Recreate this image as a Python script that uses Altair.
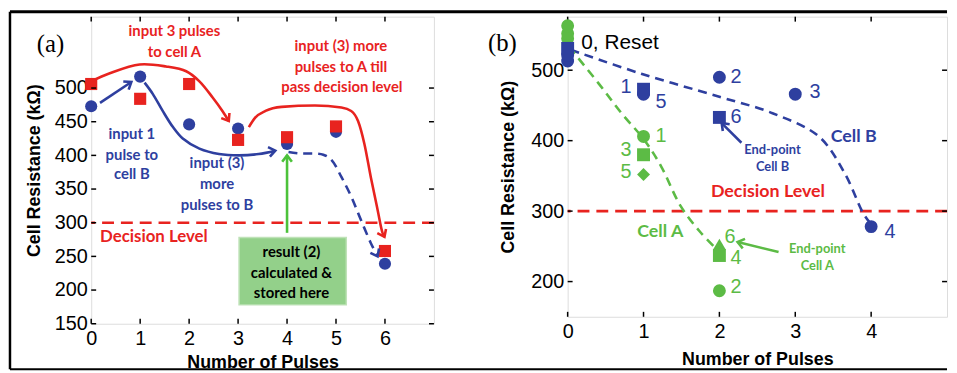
import math
import altair as alt
import pandas as pd

RED = "#e8231f"
BLUE = "#2e3f9f"
GREEN = "#5cbb45"
ARROW = "M -1 -0.75 L 0 0 L -1 0.75"
SANS = "Liberation Sans"
NOTE = "Lato"

# ---------------- panel (a) data ----------------
a_pulses = [0, 1, 2, 3, 4, 5, 6]
a_yticks = [150, 200, 250, 300, 350, 400, 450, 500]
a_cell_a = [506, 484, 506, 423, 427, 443, 258]
a_cell_b = [473, 517, 446, 440, 417, 435, 239]
decision = 300

a_red1_x = [0, 0.38, 0.99, 1.53, 1.94, 2.21, 2.48, 2.68, 2.81]
a_red1_y = [510, 522, 535, 532, 525, 510, 486, 466, 451]
a_red2_x = [3.22, 3.35, 3.56, 3.89, 4.57, 5.11, 5.31, 5.45, 5.58, 5.71, 5.85, 5.95, 5.99]
a_red2_y = [442, 456, 466, 472, 474, 471, 466, 451, 417, 368, 319, 285, 279]
a_blue1_x = [0.18, 0.82]
a_blue1_y = [478, 509]
a_blue2_x = [1.09, 1.26, 1.46, 1.67, 1.87, 2.21, 2.61, 3.02, 3.42, 3.76]
a_blue2_y = [508, 491, 466, 442, 425, 410, 402, 400, 402, 407]
a_blue3_x = [4.03, 4.23, 4.74, 4.91, 5.11, 5.31, 5.51, 5.71, 5.85]
a_blue3_y = [405, 403, 401, 393, 368, 339, 304, 270, 250]
a_green_x = [4.0, 4.0]
a_green_y = [285, 400]

a_box = {"x": 3.02, "x2": 5.21, "y": 178, "y2": 278}

a_red_notes = ["input 3 pulses", "to cell A", "input (3) more", "pulses to A till",
               "pass decision level", "Decision Level"]
a_red_notes_x = [1.70, 1.70, 5.10, 5.10, 5.12, 1.28]
a_red_notes_y = [584, 553, 562, 531, 501, 278]
a_blue_notes = ["input 1", "pulse to", "cell B", "input (3)", "more", "pulses to B"]
a_blue_notes_x = [0.83, 0.83, 0.83, 2.57, 2.57, 2.57]
a_blue_notes_y = [432, 401, 372, 388, 357, 326]
a_box_notes = ["result (2)", "calculated &", "stored here"]
a_box_notes_x = [4.09, 4.09, 4.09]
a_box_notes_y = [257, 226, 196]

# ---------------- panel (b) data ----------------
b_pulses = [0, 1, 2, 3, 4]
b_yticks = [200, 300, 400, 500]
b_cellB_x = [0, 0, 0, 1, 1, 2, 2, 3, 4]
b_cellB_y = [513, 521, 531, 473, 466, 490, 433, 466, 278]
b_cellB_shape = ["circle", "circle", "square", "square", "circle", "circle", "square", "circle", "circle"]
b_cellA_x = [0, 0, 0, 1, 1, 1, 2, 2, 2]
b_cellA_y = [545, 552, 563, 406, 380, 352, 187, 237, 253]
b_cellA_shape = ["circle", "circle", "circle", "circle", "square", "diamond", "circle", "square", "triangle-up"]

b_blue_curve_x = [0.04, 0.97, 2.01, 2.70, 3.31, 3.65, 3.89, 3.98]
b_blue_curve_y = [529, 495, 462, 439, 406, 354, 298, 284]
b_green_curve_x = [0.02, 0.41, 0.71, 1.01, 1.23, 1.49, 1.75, 2.01]
b_green_curve_y = [533, 481, 439, 401, 364, 307, 270, 241]
b_blue_arrow_x = [2.29, 2.03]
b_blue_arrow_y = [397, 425]
b_green_arrow_x = [2.78, 2.24]
b_green_arrow_y = [242, 256]

b_blue_labels = ["1", "5", "2", "3", "6", "4"]
b_blue_labels_x = [0.77, 1.23, 2.22, 3.26, 2.22, 4.25]
b_blue_labels_y = [476, 455, 490, 469, 434, 270]
b_green_labels = ["1", "3", "5", "6", "4", "2"]
b_green_labels_x = [1.23, 0.77, 0.77, 2.14, 2.22, 2.22]
b_green_labels_y = [406, 386, 356, 263, 234, 192]

# ---------------- geometry ----------------
WA, HA = 346, 310
WB, HB = 383, 303
A_XD, A_YD = [0, 7], [150, 606]
B_XD, B_YD = [0, 5], [150, 576]


def axis_x(domain, values, title, tpad):
    return alt.X("x:Q", scale=alt.Scale(domain=domain, nice=False, zero=False),
                 axis=alt.Axis(values=values, title=title, grid=False, ticks=False, tickSize=0,
                               domain=False, format="d", labelFlush=False, labelOverlap=False,
                               labelFont=SANS, labelFontSize=20, labelColor="black", labelPadding=5,
                               titleFont=SANS, titleFontSize=18, titleFontWeight="bold",
                               titleColor="black", titlePadding=tpad))


def axis_y(domain, values, title, tpad):
    return alt.Y("y:Q", scale=alt.Scale(domain=domain, nice=False, zero=False),
                 axis=alt.Axis(values=values, title=title, grid=False, ticks=False, tickSize=0,
                               domain=False, format="d", labelFlush=False, labelOverlap=False,
                               labelFont=SANS, labelFontSize=20, labelColor="black", labelPadding=4,
                               titleFont=SANS, titleFontSize=18, titleFontWeight="bold",
                               titleColor="black", titlePadding=tpad))


def xy_df(xs, ys):
    return pd.DataFrame({"x": xs, "y": ys, "i": list(range(len(xs)))})


def head_df(xs, ys, color, dom_x, dom_y, w, h):
    sx = w / (dom_x[1] - dom_x[0])
    sy = h / (dom_y[1] - dom_y[0])
    dx = (xs[-1] - xs[-2]) * sx
    dy = -(ys[-1] - ys[-2]) * sy
    ang = math.degrees(math.atan2(dy, dx)) % 360
    return {"x": xs[-1], "y": ys[-1], "angle": ang, "c": color}


def panel_layers(X, Y, curves, heads, texts, xticks, yticks, w, h):
    layers = []
    yt = pd.DataFrame({"y": yticks})
    xt = pd.DataFrame({"x": xticks})
    layers.append(alt.Chart(yt).mark_rule(color="black", strokeWidth=1.5)
                  .encode(y=Y, x=alt.value(0), x2=alt.value(5)))
    layers.append(alt.Chart(yt).mark_rule(color="black", strokeWidth=1.5)
                  .encode(y=Y, x=alt.value(w - 5), x2=alt.value(w)))
    layers.append(alt.Chart(xt).mark_rule(color="black", strokeWidth=1.5)
                  .encode(x=X, y=alt.value(h), y2=alt.value(h - 5)))
    layers.append(alt.Chart(xt).mark_rule(color="black", strokeWidth=1.5)
                  .encode(x=X, y=alt.value(0), y2=alt.value(5)))
    for xs, ys, color, dash, interp in curves:
        kw = dict(color=color, strokeWidth=2.6, interpolate=interp, strokeCap="butt")
        if dash:
            kw["strokeDash"] = dash
        layers.append(alt.Chart(xy_df(xs, ys)).mark_line(**kw)
                      .encode(x=X, y=Y, order="i:Q"))
    hd = pd.DataFrame(heads)
    layers.append(alt.Chart(hd).mark_point(shape=ARROW, filled=False, strokeWidth=2.6, size=170, opacity=1)
                  .encode(x=X, y=Y, angle=alt.Angle("angle:Q", scale=None),
                          color=alt.Color("c:N", scale=None)))
    for labels, xs, ys, color, size, weight, font in texts:
        df = pd.DataFrame({"t": labels, "x": xs, "y": ys})
        layers.append(alt.Chart(df).mark_text(color=color, fontSize=size, fontWeight=weight,
                                              font=font, align="center", baseline="middle")
                      .encode(x=X, y=Y, text="t:N"))
    return layers


# ---------------- panel (a) ----------------
XA = axis_x(A_XD, a_pulses, "Number of Pulses", 5)
YA = axis_y(A_YD, a_yticks, "Cell Resistance (kΩ)", 11)

a_layers = []
a_layers.append(alt.Chart(pd.DataFrame([a_box])).mark_rect(fill="#93d08a", stroke="#bfe2b8", strokeWidth=1.5)
                .encode(x=XA, x2="x2:Q", y=YA, y2="y2:Q"))
a_layers.append(alt.Chart(pd.DataFrame({"y": [decision]}))
                .mark_rule(color=RED, strokeWidth=2.6, strokeDash=[12, 7]).encode(y=YA))
a_curves = [
    (a_red1_x, a_red1_y, RED, None, "catmull-rom"),
    (a_red2_x, a_red2_y, RED, None, "monotone"),
    (a_blue1_x, a_blue1_y, BLUE, None, "linear"),
    (a_blue2_x, a_blue2_y, BLUE, None, "catmull-rom"),
    (a_blue3_x, a_blue3_y, BLUE, [9, 6], "catmull-rom"),
    (a_green_x, a_green_y, "#4cc23a", None, "linear"),
]
a_heads = [head_df(c[0], c[1], c[2], A_XD, A_YD, WA, HA) for c in a_curves]
a_texts = [
    (a_red_notes[:5], a_red_notes_x[:5], a_red_notes_y[:5], RED, 15, "bold", NOTE),
    (a_red_notes[5:], a_red_notes_x[5:], a_red_notes_y[5:], RED, 17, "bold", NOTE),
    (a_blue_notes, a_blue_notes_x, a_blue_notes_y, BLUE, 15, "bold", NOTE),
    (a_box_notes, a_box_notes_x, a_box_notes_y, "black", 15, "bold", NOTE),
]
a_layers += panel_layers(XA, YA, a_curves, a_heads, a_texts, a_pulses, a_yticks, WA, HA)

a_pts = pd.DataFrame({"x": a_pulses + a_pulses, "y": a_cell_b + a_cell_a,
                      "s": ["circle"] * 7 + ["square"] * 7,
                      "c": [BLUE] * 7 + [RED] * 7})
a_layers.insert(2, alt.Chart(a_pts).mark_point(filled=True, opacity=1, size=150)
                .encode(x=XA, y=YA, shape=alt.Shape("s:N", scale=None),
                        color=alt.Color("c:N", scale=None)))
a_layers.append(alt.Chart(pd.DataFrame({"t": ["(a)"], "x": [-0.83], "y": [565]}))
                .mark_text(font="Liberation Serif", fontSize=25, color="black")
                .encode(x=XA, y=YA, text="t:N"))
# outer frame of the figure
a_layers.append(alt.Chart(pd.DataFrame({"k": [0]})).mark_rule(color="black", strokeWidth=3)
                .encode(x=alt.value(-82), x2=alt.value(864), y=alt.value(-5)))
a_layers.append(alt.Chart(pd.DataFrame({"k": [0]})).mark_rule(color="black", strokeWidth=2.5)
                .encode(x=alt.value(-82), y=alt.value(-5), y2=alt.value(356)))
a_layers.append(alt.Chart(pd.DataFrame({"k": [0]})).mark_rule(color="black", strokeWidth=2)
                .encode(x=alt.value(-82), x2=alt.value(864), y=alt.value(356)))

panel_a = alt.layer(*a_layers).properties(width=WA, height=HA)

# ---------------- panel (b) ----------------
XB = axis_x(B_XD, b_pulses, "Number of Pulses", 9)
YB = axis_y(B_YD, b_yticks, "Cell Resistance (kΩ)", 13)

b_layers = []
b_layers.append(alt.Chart(pd.DataFrame({"y": [decision]}))
                .mark_rule(color=RED, strokeWidth=2.6, strokeDash=[12, 7]).encode(y=YB))
b_curves = [
    (b_blue_curve_x, b_blue_curve_y, BLUE, [9, 6], "catmull-rom"),
    (b_green_curve_x, b_green_curve_y, GREEN, [9, 6], "catmull-rom"),
    (b_blue_arrow_x, b_blue_arrow_y, BLUE, None, "linear"),
    (b_green_arrow_x, b_green_arrow_y, GREEN, None, "linear"),
]
b_heads = [head_df(c[0], c[1], c[2], B_XD, B_YD, WB, HB) for c in b_curves[2:]]
b_texts = [
    (b_blue_labels, b_blue_labels_x, b_blue_labels_y, BLUE, 20, "normal", SANS),
    (b_green_labels, b_green_labels_x, b_green_labels_y, GREEN, 20, "normal", SANS),
    (["Cell B"], [3.77], [405], BLUE, 18, "bold", NOTE),
    (["End-point", "Cell B"], [2.70, 2.70], [386, 362], BLUE, 13, "bold", NOTE),
    (["Decision Level"], [2.64], [327], RED, 18, "bold", NOTE),
    (["Cell A"], [1.22], [270], GREEN, 18, "bold", NOTE),
    (["End-point", "Cell A"], [3.29, 3.29], [246, 222], GREEN, 13, "bold", NOTE),
]
b_layers += panel_layers(XB, YB, b_curves, b_heads, b_texts, b_pulses, b_yticks, WB, HB)

b_pts = pd.DataFrame({"x": b_cellA_x + b_cellB_x, "y": b_cellA_y + b_cellB_y,
                      "s": b_cellA_shape + b_cellB_shape,
                      "c": [GREEN] * len(b_cellA_x) + [BLUE] * len(b_cellB_x)})
b_layers.append(alt.Chart(b_pts).mark_point(filled=True, opacity=1, size=170)
                .encode(x=XB, y=YB, shape=alt.Shape("s:N", scale=None),
                        color=alt.Color("c:N", scale=None)))
b_layers.append(alt.Chart(pd.DataFrame({"t": ["0, Reset"], "x": [0.18], "y": [539]}))
                .mark_text(font=SANS, fontSize=21, color="black", align="left", baseline="middle")
                .encode(x=XB, y=YB, text="t:N"))
b_layers.append(alt.Chart(pd.DataFrame({"t": ["(b)"], "x": [-0.86], "y": [539]}))
                .mark_text(font="Liberation Serif", fontSize=25, color="black")
                .encode(x=XB, y=YB, text="t:N"))

panel_b = alt.layer(*b_layers).properties(width=WB, height=HB)

chart = (alt.hconcat(panel_a, panel_b, spacing=135, bounds="flush")
         .properties(padding=0)
         .configure_view(stroke="black", strokeWidth=2)
         .configure(background="white"))

chart.save("out.html", embed_options={"renderer": "svg", "actions": False})
